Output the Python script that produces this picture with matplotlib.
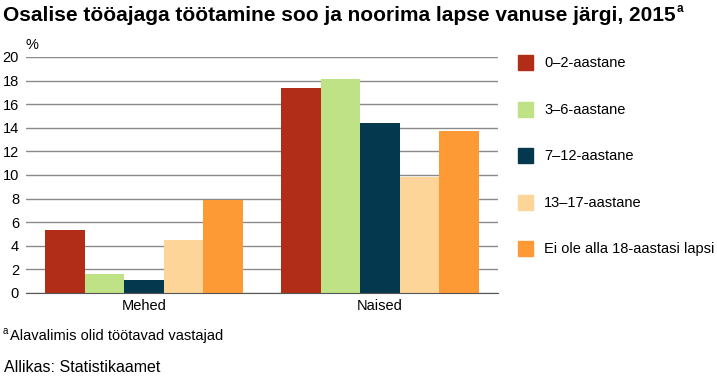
import numpy as np
import matplotlib.pyplot as plt

plt.rcParams['font.family'] = ['Liberation Sans', 'DejaVu Sans']

groups = ["Mehed", "Naised"]
series = ["0–2-aastane", "3–6-aastane", "7–12-aastane", "13–17-aastane",
          "Ei ole alla 18-aastasi lapsi"]
values = {
    "0–2-aastane": [5.3, 17.4],
    "3–6-aastane": [1.6, 18.1],
    "7–12-aastane": [1.1, 14.4],
    "13–17-aastane": [4.5, 9.8],
    "Ei ole alla 18-aastasi lapsi": [7.9, 13.7],
}
colors = ["#B22D17", "#BFE286", "#04384F", "#FDD598", "#FD9A35"]
yticks = [0, 2, 4, 6, 8, 10, 12, 14, 16, 18, 20]

fig = plt.figure(figsize=(7.17, 3.8), dpi=100)
ax = fig.add_axes([26/717, 1-293/380, 472/717, 236/380])

x = np.arange(len(groups))
w = 0.167
for i, s in enumerate(series):
    ax.bar(x + (i - 2) * w, values[s], width=w, color=colors[i], zorder=3)

ax.set_xlim(-0.5, 1.5)
ax.set_ylim(0, 20)
ax.set_yticks(yticks)
ax.set_yticklabels([str(t) for t in yticks], fontsize=10.5)
ax.set_xticks(x)
ax.set_xticklabels(groups, fontsize=10.5)
ax.tick_params(length=0, pad=5)
ax.tick_params(axis='x', pad=4)
ax.grid(axis='y', color='#8a8a8a', linewidth=1, zorder=0)
for side in ['top', 'right', 'left']:
    ax.spines[side].set_visible(False)
ax.spines['bottom'].set_color('#555555')
ax.spines['bottom'].set_zorder(4)
ax.text(-0.5, 20.4, "%", fontsize=10.5, ha='left', va='bottom', clip_on=False)

# legend
for i, s in enumerate(series):
    yp = 1 - (63 + i * 46.5) / 380
    fig.patches.append(plt.Rectangle((518/717, yp - 7/380), 15/717, 15/380,
                                     color=colors[i], transform=fig.transFigure))
    fig.text(544/717, yp, s, fontsize=10.5, va='center', ha='left')

t = fig.text(3/717, 1 - 21/380, "Osalise tööajaga töötamine soo ja noorima lapse vanuse järgi, 2015",
             fontsize=15, fontweight='bold', va='baseline', ha='left')
fig.canvas.draw()
bb = t.get_window_extent()
fig.text(bb.x1 / 717 + 1/717, 1 - 12/380, "a", fontsize=8.5, fontweight='bold',
         va='baseline', ha='left')

fig.text(3/717, 1 - 336/380, "a", fontsize=7, va='bottom', ha='left')
fig.text(10/717, 1 - 336/380, "Alavalimis olid töötavad vastajad", fontsize=10.5,
         va='center', ha='left')
fig.text(4/717, 1 - 367/380, "Allikas: Statistikaamet", fontsize=11.5,
         va='center', ha='left')

fig.savefig("out.png", dpi=100)
